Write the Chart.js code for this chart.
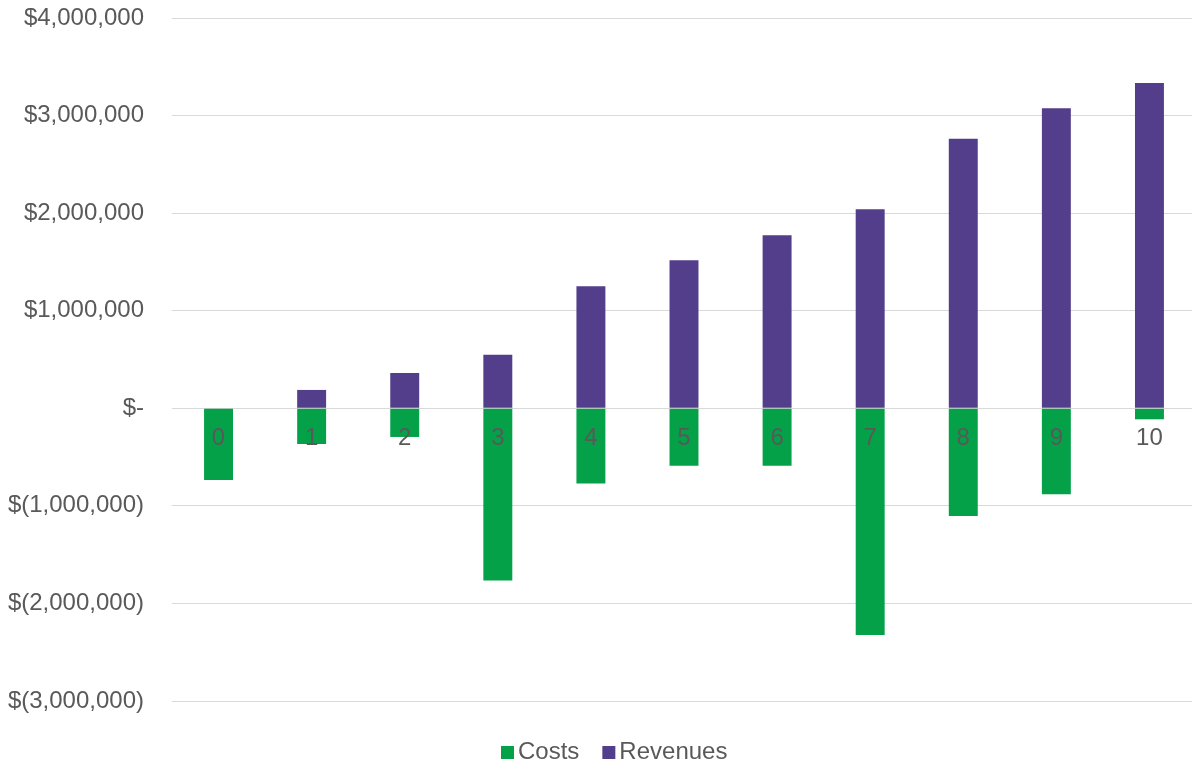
<!DOCTYPE html>
<html>
<head>
<meta charset="utf-8">
<script src="https://cdn.jsdelivr.net/npm/chart.js@4/dist/chart.umd.min.js"></script>
<style>
  html, body { margin: 0; padding: 0; background: #ffffff; overflow: hidden; }
  #wrap { position: relative; width: 1196px; height: 764px; }
</style>
</head>
<body>
<div id="wrap"><canvas id="c"></canvas></div>
<script>
const categories = ["0", "1", "2", "3", "4", "5", "6", "7", "8", "9", "10"];
const costs = [-735000, -366000, -294000, -1766000, -772000, -588000, -588000, -2323000, -1103000, -881000, -113000];
const revenues = [0, 188000, 362000, 549000, 1250000, 1516000, 1773000, 2039000, 2762000, 3074000, 3333000];
const yTickValues = [4000000, 3000000, 2000000, 1000000, 0, -1000000, -2000000, -3000000];

const GREEN = '#05A149';
const PURPLE = '#533E8B';
const TEXT = '#595959';
const FONT = "'Liberation Sans', Arial, sans-serif";

function fmtMoney(v) {
  if (v === 0) return '$-';
  const s = Math.abs(v).toLocaleString('en-US');
  return v < 0 ? '$(' + s + ')' : '$' + s;
}

const legendPlugin = {
  id: 'customLegend',
  afterDraw(chart) {
    const ctx = chart.ctx;
    ctx.save();
    ctx.font = '24px ' + FONT;
    ctx.textBaseline = 'middle';
    let x = 501;
    const y = 752;
    chart.data.datasets.forEach((ds) => {
      ctx.fillStyle = ds.backgroundColor;
      ctx.fillRect(x, y - 6, 13, 13);
      x += 13 + 4;
      ctx.fillStyle = TEXT;
      ctx.fillText(ds.label, x, y);
      x += ctx.measureText(ds.label).width + 23;
    });
    ctx.restore();
  }
};

new Chart(document.getElementById('c'), {
  type: 'bar',
  data: {
    labels: categories,
    datasets: [
      { label: 'Costs', data: costs, backgroundColor: GREEN, borderWidth: 0, stack: 's' },
      { label: 'Revenues', data: revenues, backgroundColor: PURPLE, borderWidth: 0, stack: 's' }
    ]
  },
  options: {
    responsive: true,
    maintainAspectRatio: false,
    animation: false,
    layout: { padding: { left: 0, right: 0, top: 18, bottom: 63 } },
    datasets: { bar: { categoryPercentage: 1, barPercentage: 0.311 } },
    plugins: {
      legend: { display: false },
      tooltip: { enabled: false }
    },
    scales: {
      x: {
        stacked: true,
        position: { y: 0 },
        grid: { display: false, drawTicks: false },
        border: { display: false },
        ticks: { z: 1, color: TEXT, font: { size: 24, family: FONT }, padding: 16, maxRotation: 0 }
      },
      y: {
        stacked: true,
        min: -3000000,
        max: 4000000,
        afterBuildTicks(scale) { scale.ticks = yTickValues.map(v => ({ value: v })); },
        afterFit(scale) { scale.width = 172; scale.paddingTop = 0; scale.paddingBottom = 0; },
        grid: { color: '#d9d9d9', lineWidth: 1, drawTicks: false },
        border: { display: false },
        ticks: {
          color: TEXT,
          font: { size: 24, family: FONT },
          padding: 28,
          callback: (v) => fmtMoney(v)
        }
      }
    }
  },
  plugins: [legendPlugin]
});
</script>
</body>
</html>
